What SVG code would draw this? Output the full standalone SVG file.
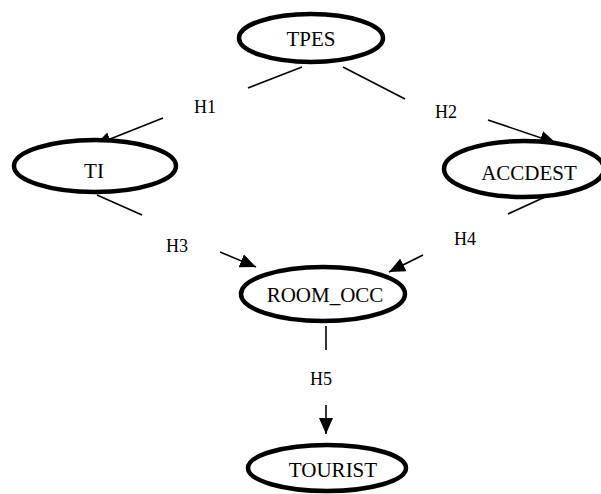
<svg xmlns="http://www.w3.org/2000/svg" width="601" height="494" viewBox="0 0 601 494">
<style>
.node{fill:#fff;stroke:#000;stroke-width:4.5}
.lbl{font-family:"Liberation Serif","Times New Roman",serif;font-size:21px;fill:#000;text-anchor:middle}
.h{font-family:"Liberation Serif","Times New Roman",serif;font-size:18px;fill:#000;text-anchor:middle}
.c{stroke:#000;stroke-width:1.6;fill:none}
</style>
<defs>
<marker id="ah" markerUnits="userSpaceOnUse" markerWidth="18" markerHeight="14" refX="16" refY="7" orient="auto">
<path d="M0,0 L16,7 L0,14 Z" fill="#000"/>
</marker>
</defs>
<g id="connectors">
<line class="c" x1="302" y1="67" x2="248" y2="88"/>
<line class="c" x1="343" y1="67" x2="405" y2="99"/>
<line class="c" x1="163" y1="118" x2="95" y2="145" marker-end="url(#ah)"/>
<line class="c" x1="488" y1="120" x2="556" y2="143" marker-end="url(#ah)"/>
<line class="c" x1="97" y1="195" x2="142" y2="215"/>
<line class="c" x1="545" y1="197" x2="508" y2="214"/>
<line class="c" x1="220" y1="252" x2="256" y2="267" marker-end="url(#ah)"/>
<line class="c" x1="423" y1="255" x2="389" y2="272" marker-end="url(#ah)"/>
<line class="c" x1="326" y1="326" x2="326" y2="350"/>
<line class="c" x1="326" y1="405" x2="326" y2="434" marker-end="url(#ah)"/>
<text class="h" x="205" y="113">H1</text>
<text class="h" x="446" y="118">H2</text>
<text class="h" x="177" y="252">H3</text>
<text class="h" x="465" y="245">H4</text>
<text class="h" x="321" y="385">H5</text>
</g>
<g id="TPES">
<ellipse class="node" cx="311" cy="38" rx="72" ry="24"/>
<text class="lbl" x="311" y="46">TPES</text>
</g>
<g id="TI">
<ellipse class="node" cx="95" cy="166" rx="81" ry="26"/>
<text class="lbl" x="94" y="178">TI</text>
</g>
<g id="ACCDEST">
<ellipse class="node" cx="524" cy="169" rx="80" ry="28"/>
<text class="lbl" x="529" y="180">ACCDEST</text>
</g>
<g id="ROOM_OCC">
<ellipse class="node" cx="323" cy="294" rx="82" ry="27"/>
<text class="lbl" x="325" y="302">ROOM_OCC</text>
</g>
<g id="TOURIST">
<ellipse class="node" cx="327" cy="468" rx="79" ry="23"/>
<text class="lbl" x="333" y="477">TOURIST</text>
</g>
</svg>
